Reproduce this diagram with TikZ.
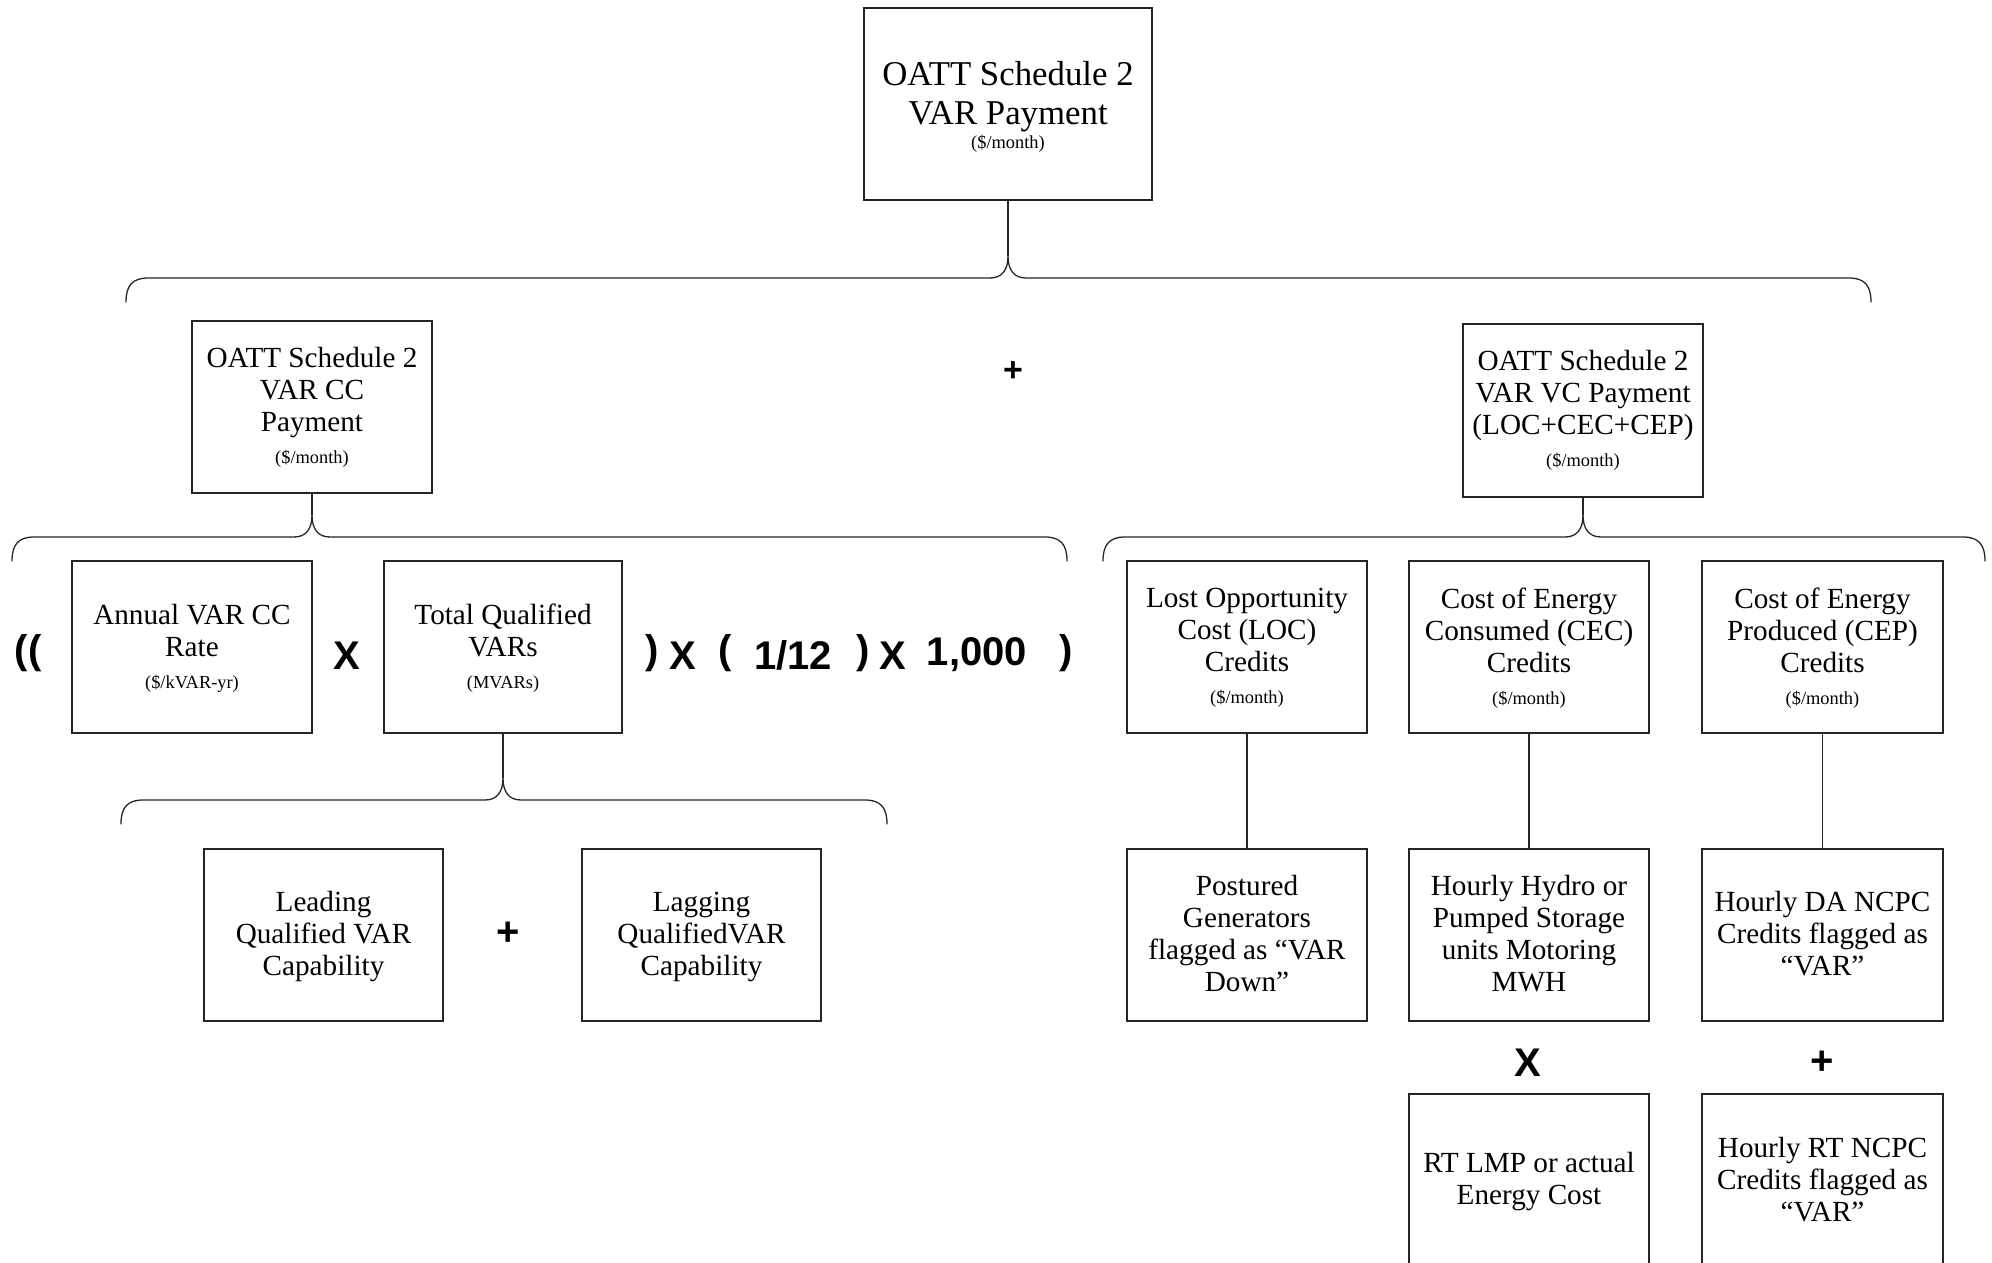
\documentclass[tikz,border=0pt]{standalone}
\usepackage{fontspec}
\setmainfont{Liberation Serif}
\setsansfont{Liberation Sans}
\usetikzlibrary{fit}
\tikzset{
  px/.style={x=0.5pt,y=-0.5pt},
  frame/.style={draw=black!85, line width=0.65pt, inner sep=0pt},
  txt/.style={inner sep=0pt, align=center, font=\fontsize{14.6}{16}\selectfont},
  bigtxt/.style={txt, font=\fontsize{17.4}{19.7}\selectfont},
  op/.style={font=\fontsize{20}{24}\selectfont\sffamily\bfseries, inner sep=0pt},
  opsmall/.style={font=\fontsize{17}{20}\selectfont\sffamily\bfseries, inner sep=0pt},
  conn/.style={line width=0.65pt, draw=black!85, line cap=round},
}
\newcommand{\unitsm}[2][0pt]{\\[#1]{\fontsize{9.2}{10}\selectfont #2}}
% box: name, x1, y1, x2, y2, text shift, text
\newcommand{\bx}[7]{%
  \node[frame, fit={(#2,#3)(#4,#5)}] (#1) {};
  \node[txt, yshift=-#6] (#1-t) at (#1.center) {#7};
}
% brace: #1 left x, #2 right x, #3 horizontal y, #4 tip x, #5 name
\newcommand{\brc}[5]{%
  \coordinate (#5l) at (#1,#3+24);
  \coordinate (#5r) at (#2,#3+24);
  \coordinate (#5t) at (#4,#3-22);
  \draw[conn] (#5l) .. controls (#1,#3+8) and (#1+6,#3) .. (#1+22,#3)
    -- (#4-18,#3) .. controls (#4-6,#3) and (#4,#3-8) .. (#5t)
    .. controls (#4,#3-8) and (#4+6,#3) .. (#4+18,#3)
    -- (#2-22,#3) .. controls (#2-6,#3) and (#2,#3+8) .. (#5r);
}
\begin{document}
\begin{tikzpicture}[px]
\path[use as bounding box, clip] (0,0) rectangle (1992,1263);

% top
\node[frame, fit={(864,8)(1152,200)}] (top) {};
\node[bigtxt, yshift=-1.4pt] (top-t) at (top.center) {OATT Schedule 2\\VAR Payment\unitsm[-7.7pt]{(\$/month)}};
\node[opsmall] (plus1) at (1013,372) {+};

% level 2
\bx{cc}{192}{321}{432}{493}{0pt}{OATT Schedule 2\\VAR CC\\Payment\unitsm{(\$/month)}}
\bx{vc}{1463}{324}{1703}{497}{0pt}{OATT Schedule 2\\VAR VC Payment\\(LOC+CEC+CEP)\unitsm{(\$/month)}}

% level 3 left
\bx{annual}{72}{561}{312}{733}{0.5pt}{Annual VAR CC\\Rate\unitsm{(\$/kVAR-yr)}}
\bx{total}{384}{561}{622}{733}{0.5pt}{Total Qualified\\VARs\unitsm{(MVARs)}}

% formula operators
\node[op] (f1) at (28,653) {((};
\node[op] (f2) at (347,656) {X};
\node[op] (f3) at (652,653) {)};
\node[op] (f4) at (683,656) {X};
\node[op] (f5) at (725,653) {(};
\node[op] (f6) at (793,655) {1/12};
\node[op] (f7) at (863,653) {)};
\node[op] (f8) at (893,656) {X};
\node[op] (f9) at (977,655) {1,000};
\node[op] (f10) at (1066,653) {)};

% level 4 left
\bx{lead}{204}{849}{443}{1021}{1pt}{Leading\\Qualified VAR\\Capability}
\bx{lag}{582}{849}{821}{1021}{1pt}{Lagging\\QualifiedVAR\\Capability}
\node[op] (plus2) at (508,934) {+};

% level 3 right
\bx{loc}{1127}{561}{1367}{733}{0.5pt}{Lost Opportunity\\Cost (LOC)\\Credits\unitsm{(\$/month)}}
\bx{cec}{1409}{561}{1649}{733}{0.5pt}{Cost of Energy\\Consumed (CEC)\\Credits\unitsm{(\$/month)}}
\bx{cep}{1702}{561}{1943}{733}{0.5pt}{Cost of Energy\\Produced (CEP)\\Credits\unitsm{(\$/month)}}

% level 4 right
\bx{post}{1127}{849}{1367}{1021}{-0.8pt}{Postured\\Generators\\flagged as “VAR\\Down”}
\bx{hydro}{1409}{849}{1649}{1021}{-0.8pt}{Hourly Hydro or\\Pumped Storage\\units Motoring\\MWH}
\bx{da}{1702}{849}{1943}{1021}{-0.6pt}{Hourly DA NCPC\\Credits flagged as\\“VAR”}

\node[op] (times3) at (1528,1063) {X};
\node[op] (plus3) at (1822,1063) {+};

% level 5 right
\bx{rt}{1409}{1094}{1649}{1266}{1pt}{RT LMP or actual\\Energy Cost}
\bx{rtn}{1702}{1094}{1943}{1266}{-0.3pt}{Hourly RT NCPC\\Credits flagged as\\“VAR”}

% braces and connectors
\brc{126}{1871}{278}{1008}{ba}
\draw[conn] (top.south) -- (bat);
\brc{12}{1067}{537}{312}{bb}
\draw[conn] (cc.south) -- (bbt);
\brc{1103}{1985}{537}{1583}{bc}
\draw[conn] (vc.south) -- (bct);
\brc{121}{887}{800}{503}{bd}
\draw[conn] (total.south) -- (bdt);

\draw[conn] (loc.south) -- (post.north);
\draw[conn] (cec.south) -- (hydro.north);
\draw[conn] (cep.south) -- (da.north);
\end{tikzpicture}
\end{document}
